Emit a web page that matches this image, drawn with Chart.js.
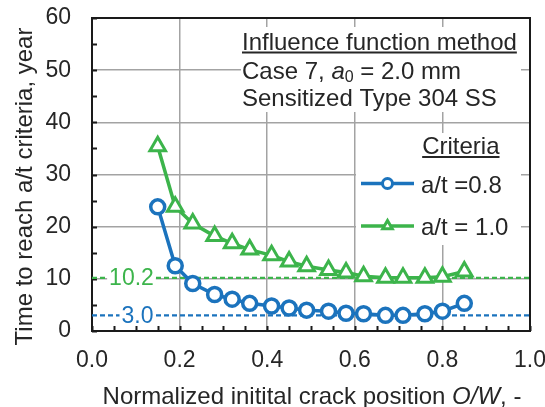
<!DOCTYPE html>
<html>
<head>
<meta charset="utf-8">
<title>Time to reach a/t criteria</title>
<script src="https://cdn.jsdelivr.net/npm/chart.js@4.4.1/dist/chart.umd.min.js"></script>
<style>
  html, body { margin: 0; padding: 0; background: #fff; }
  #wrap { width: 545px; height: 407px; }
</style>
</head>
<body>
<div id="wrap"><canvas id="chart" width="545" height="407"></canvas></div>
<script>
// ============================================
// Influence function method — Case 7, a0 = 2.0 mm
// Time to reach a/t criteria vs. initial crack position
// ============================================

// --- Data ---
const positions = [0.15, 0.19, 0.23, 0.28, 0.32, 0.36, 0.41, 0.45, 0.49, 0.54, 0.58, 0.62, 0.67, 0.71, 0.76, 0.80, 0.85];
const yearsAt08 = [23.8, 12.5, 9.1, 7.0, 6.1, 5.3, 4.8, 4.4, 4.0, 3.8, 3.4, 3.3, 3.0, 3.0, 3.3, 3.8, 5.3];
const yearsAt10 = [35.4, 23.8, 20.6, 18.2, 16.8, 15.6, 14.5, 13.3, 12.4, 11.7, 11.2, 10.5, 10.2, 10.2, 10.2, 10.4, 11.4];
const seriesNames = ['a/t =0.8', 'a/t = 1.0'];
const minYears = [3.0, 10.2];
const minLabels = ['3.0', '10.2'];

const xTicks = [0, 0.2, 0.4, 0.6, 0.8, 1.0];
const yTicks = [0, 10, 20, 30, 40, 50, 60];

const BLUE = '#1b73bd';
const GREEN = '#3cb44b';
const TEXT = '#262626';
const FONT = "'Liberation Sans', Arial, sans-serif";

const toPoints = ys => positions.map((x, i) => ({ x, y: ys[i] }));

// text runs: plain / italic / subscript
function drawRuns(ctx, runs, x, y, size) {
    let cx = x;
    runs.forEach(r => {
        const s = r.sub ? Math.round(size * 0.68) : size;
        ctx.font = `${r.italic ? 'italic ' : ''}${s}px ${FONT}`;
        ctx.fillText(r.text, cx, y + (r.sub ? 3 : 0));
        cx += ctx.measureText(r.text).width;
    });
    return cx - x;
}
function runsWidth(ctx, runs, size) {
    let w = 0;
    runs.forEach(r => {
        const s = r.sub ? Math.round(size * 0.68) : size;
        ctx.font = `${r.italic ? 'italic ' : ''}${s}px ${FONT}`;
        w += ctx.measureText(r.text).width;
    });
    return w;
}

const decor = {
    id: 'decor',
    beforeDatasetsDraw(chart) {
        const { ctx, chartArea: a, scales: { x, y } } = chart;
        ctx.save();

        // white panels behind the notes and the legend
        ctx.fillStyle = '#fff';
        ctx.fillRect(241, 27, 280, 85);
        ctx.fillRect(415, 133, 106, 27);
        ctx.fillRect(356, 160, 165, 85);

        // frame
        ctx.strokeStyle = '#1a1a1a';
        ctx.lineWidth = 2;
        ctx.strokeRect(a.left, a.top, a.right - a.left, a.bottom - a.top);

        // inner tick marks
        ctx.beginPath();
        for (let v = y.min; v <= y.max; v += 5) {
            const py = Math.round(y.getPixelForValue(v)) + 0.5;
            ctx.moveTo(a.left, py);
            ctx.lineTo(a.left + 5, py);
        }
        for (let v = 0; v <= 20; v++) {
            const px = Math.round(x.getPixelForValue(v * 0.05)) + 0.5;
            ctx.moveTo(px, a.bottom);
            ctx.lineTo(px, a.bottom - 5);
        }
        ctx.stroke();

        // minimum-time reference lines
        const refColors = [BLUE, GREEN];
        const labelX = [137.5, 131.5];
        minYears.forEach((v, i) => {
            const py = y.getPixelForValue(v);
            ctx.strokeStyle = refColors[i];
            ctx.lineWidth = 2.2;
            ctx.setLineDash([5, 3]);
            ctx.beginPath();
            ctx.moveTo(a.left, py);
            ctx.lineTo(a.right, py);
            ctx.stroke();
            ctx.setLineDash([]);

            ctx.font = `23px ${FONT}`;
            const w = ctx.measureText(minLabels[i]).width;
            ctx.fillStyle = '#fff';
            ctx.fillRect(labelX[i] - w / 2 - 2, py - 9, w + 4, 18);
            ctx.fillStyle = refColors[i];
            ctx.textAlign = 'center';
            ctx.textBaseline = 'middle';
            ctx.fillText(minLabels[i], labelX[i], py + 1);
        });
        ctx.restore();
    },
    afterDatasetsDraw(chart) {
        const { ctx } = chart;
        ctx.save();
        ctx.fillStyle = TEXT;
        ctx.strokeStyle = TEXT;
        ctx.textAlign = 'left';
        ctx.textBaseline = 'alphabetic';

        // notes
        ctx.font = `24px ${FONT}`;
        ctx.fillText('Influence function method', 242, 49.5);
        const w1 = ctx.measureText('Influence function method').width;
        ctx.lineWidth = 2;
        ctx.beginPath();
        ctx.moveTo(242, 52.5);
        ctx.lineTo(242 + w1, 52.5);
        ctx.stroke();

        drawRuns(ctx, [
            { text: 'Case 7, ' },
            { text: 'a', italic: true },
            { text: '0', sub: true },
            { text: ' = 2.0 mm' },
        ], 242, 78.5, 24);

        ctx.font = `24px ${FONT}`;
        ctx.fillText('Sensitized Type 304 SS', 242, 105.5);

        // legend
        ctx.textAlign = 'right';
        ctx.fillText('Criteria', 499.5, 154);
        const wc = ctx.measureText('Criteria').width;
        ctx.beginPath();
        ctx.moveTo(499.5 - wc, 157);
        ctx.lineTo(499.5, 157);
        ctx.stroke();

        const legendRows = [
            { y: 183.5, base: 192.5, color: BLUE, style: 'circle', r: 5 },
            { y: 226, base: 234.5, color: GREEN, style: 'triangle', r: 5.5 },
        ];
        legendRows.forEach((row, i) => {
            ctx.strokeStyle = row.color;
            ctx.lineWidth = 3.5;
            ctx.beginPath();
            ctx.moveTo(361, row.y);
            ctx.lineTo(414, row.y);
            ctx.stroke();
            ctx.fillStyle = '#fff';
            ctx.lineWidth = 3;
            Chart.helpers.drawPoint(ctx, { pointStyle: row.style, radius: row.r, borderWidth: 3, rotation: 0 }, 387.5, row.y);
            ctx.fillStyle = TEXT;
            ctx.textAlign = 'left';
            ctx.font = `24px ${FONT}`;
            ctx.fillText(seriesNames[i], 421, row.base);
        });

        // axis titles
        ctx.fillStyle = TEXT;
        ctx.save();
        ctx.translate(31.5, 186.5);
        ctx.rotate(-Math.PI / 2);
        ctx.textAlign = 'center';
        ctx.font = `24px ${FONT}`;
        ctx.fillText('Time to reach a/t criteria, year', 0, 0);
        ctx.restore();

        const xTitle = [
            { text: 'Normalized initital crack position ' },
            { text: 'O/W', italic: true },
            { text: ', -' },
        ];
        ctx.textAlign = 'left';
        const tw = runsWidth(ctx, xTitle, 24);
        drawRuns(ctx, xTitle, 312 - tw / 2, 404, 24);

        ctx.restore();
    }
};

new Chart(document.getElementById('chart'), {
    type: 'line',
    data: {
        datasets: [{
            label: seriesNames[0],
            data: toPoints(yearsAt08),
            borderColor: BLUE,
            borderWidth: 3.5,
            pointStyle: 'circle',
            pointRadius: 7,
            pointBorderWidth: 3.5,
            pointBackgroundColor: '#fff',
            pointBorderColor: BLUE,
            tension: 0,
        }, {
            label: seriesNames[1],
            data: toPoints(yearsAt10),
            borderColor: GREEN,
            borderWidth: 3.5,
            pointStyle: 'triangle',
            pointRadius: 9,
            pointBorderWidth: 3,
            pointBackgroundColor: '#fff',
            pointBorderColor: GREEN,
            tension: 0,
        }]
    },
    options: {
        responsive: false,
        animation: false,
        layout: { padding: { top: 18, right: 15, left: 0, bottom: 0 } },
        plugins: { legend: { display: false }, tooltip: { enabled: false } },
        scales: {
            x: {
                type: 'linear',
                min: 0,
                max: 1,
                afterBuildTicks: s => { s.ticks = xTicks.map(v => ({ value: v })); },
                ticks: {
                    callback: v => v.toFixed(1),
                    font: { size: 23, family: FONT },
                    color: TEXT,
                    padding: 16,
                    maxRotation: 0,
                },
                grid: { color: '#a3a3a3', lineWidth: 1.5, drawTicks: false },
                border: { display: false },
                afterFit: s => { s.height = 76; s.paddingLeft = 0; s.paddingRight = 0; },
            },
            y: {
                min: 0,
                max: 60,
                afterBuildTicks: s => { s.ticks = yTicks.map(v => ({ value: v })); },
                ticks: {
                    font: { size: 23, family: FONT },
                    color: TEXT,
                    padding: 21,
                },
                grid: { color: '#a3a3a3', lineWidth: 1.5, drawTicks: false },
                border: { display: false },
                afterFit: s => { s.width = 92; s.paddingTop = 0; s.paddingBottom = 0; },
            }
        }
    },
    plugins: [decor]
});
</script>
</body>
</html>
